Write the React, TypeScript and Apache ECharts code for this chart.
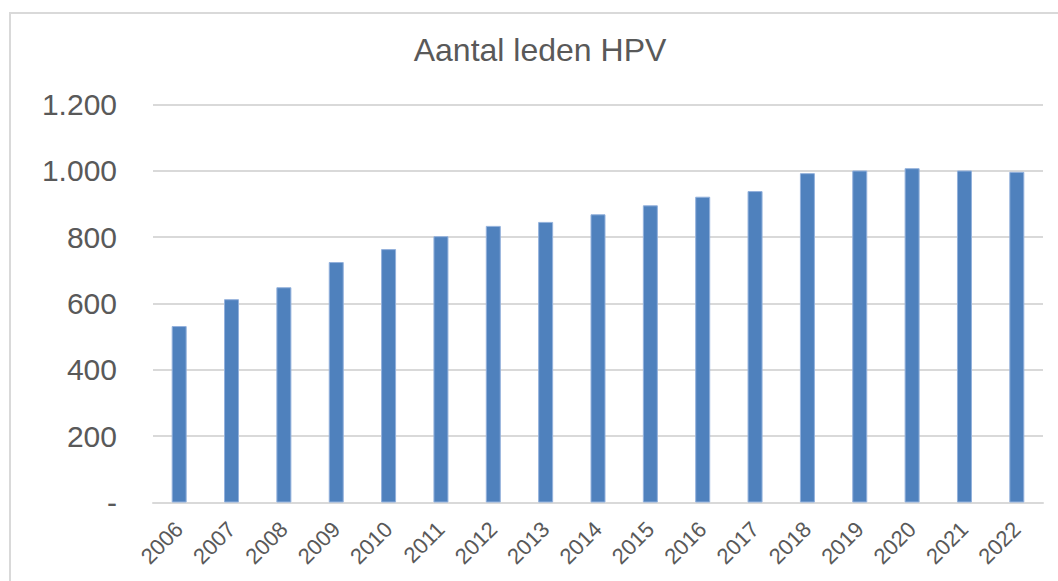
import React, { useEffect, useRef } from "react";
import * as echarts from "echarts";

const years = ["2006","2007","2008","2009","2010","2011","2012","2013","2014","2015","2016","2017","2018","2019","2020","2021","2022"];
const members = [532, 613, 649, 725, 764, 803, 834, 846, 869, 896, 922, 939, 993, 1001, 1008, 1001, 997];
const titleText = "Aantal leden HPV";

const FONT = "'Liberation Sans', Arial, sans-serif";
const GREY = "#595959";

export default function App() {
  const ref = useRef<HTMLDivElement>(null);
  useEffect(() => {
    if (!ref.current) return;
    const chart = echarts.init(ref.current, undefined, { renderer: "svg" });
    chart.setOption({
      animation: false,
      backgroundColor: "#ffffff",
      graphic: [
        {
          type: "rect",
          z: -10,
          shape: { x: 10, y: 13, width: 1070, height: 600 },
          style: { fill: "#ffffff", stroke: "#d9d9d9", lineWidth: 2 },
        },
        {
          type: "text",
          x: 540,
          y: 50,
          style: {
            text: titleText,
            font: `32px ${FONT}`,
            fill: GREY,
            textAlign: "center",
            textVerticalAlign: "middle",
          },
        },
      ],
      grid: { left: 153, right: 15, top: 104.5, bottom: 78.5, containLabel: false },
      xAxis: {
        type: "category",
        data: years,
        axisLine: { lineStyle: { color: "#d9d9d9", width: 2 } },
        axisTick: { show: false },
        axisLabel: {
          rotate: 45,
          margin: 23,
          color: GREY,
          fontSize: 22,
          fontFamily: FONT,
          interval: 0,
        },
      },
      yAxis: {
        type: "value",
        min: 0,
        max: 1200,
        interval: 200,
        axisLine: { show: false },
        axisTick: { show: false },
        splitLine: { lineStyle: { color: "#d9d9d9", width: 2 } },
        axisLabel: {
          margin: 36,
          color: GREY,
          fontSize: 30,
          fontFamily: FONT,
          formatter: (v: number) =>
            v === 0 ? "-" : String(v).replace(/\B(?=(\d{3})+(?!\d))/g, "."),
        },
      },
      series: [
        {
          type: "bar",
          data: members,
          barWidth: 15,
          itemStyle: { color: "#4f81bd", borderColor: "#93b1dc", borderWidth: 1 },
        },
      ],
    });
    return () => chart.dispose();
  }, []);
  return (
    <div
      ref={ref}
      style={{ position: "fixed", left: 0, top: 0, width: 1058, height: 581 }}
    />
  );
}
